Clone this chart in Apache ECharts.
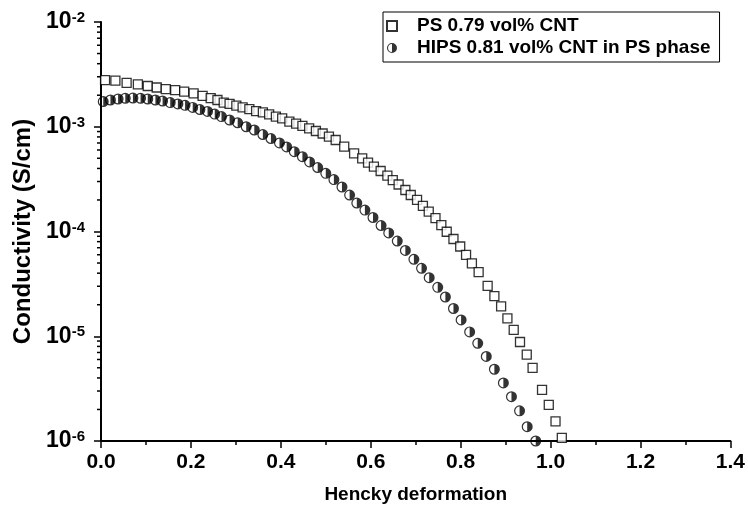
<!DOCTYPE html>
<html>
<head>
<meta charset="utf-8">
<script src="https://cdn.jsdelivr.net/npm/echarts@6/dist/echarts.min.js"></script>
<style>
  html, body { margin: 0; padding: 0; background: #fff; }
  #chart { width: 748px; height: 509px; }
</style>
</head>
<body>
<div id="chart"></div>
<script>
// PS 0.79 vol% CNT (open squares)
var psStrain = [0.009, 0.032, 0.057, 0.082, 0.104, 0.124, 0.144, 0.165, 0.185, 0.206,
  0.226, 0.244, 0.259, 0.273, 0.286, 0.301, 0.315, 0.330, 0.345, 0.360,
  0.374, 0.389, 0.403, 0.419, 0.434, 0.448, 0.463, 0.478, 0.493, 0.507,
  0.522, 0.541, 0.563, 0.581, 0.594, 0.607, 0.622, 0.637, 0.649, 0.662,
  0.677, 0.689, 0.703, 0.716, 0.729, 0.744, 0.757, 0.769, 0.784, 0.799,
  0.812, 0.825, 0.840, 0.860, 0.875, 0.890, 0.904, 0.918, 0.932, 0.947,
  0.960, 0.981, 0.996, 1.011, 1.025];
var psCond = [2.79e-3, 2.76e-3, 2.62e-3, 2.54e-3, 2.45e-3, 2.37e-3, 2.29e-3, 2.24e-3, 2.16e-3, 2.08e-3,
  1.97e-3, 1.88e-3, 1.80e-3, 1.70e-3, 1.65e-3, 1.59e-3, 1.53e-3, 1.47e-3, 1.41e-3, 1.37e-3,
  1.31e-3, 1.25e-3, 1.20e-3, 1.12e-3, 1.07e-3, 1.02e-3, 9.67e-4, 9.11e-4, 8.62e-4, 8.04e-4,
  7.47e-4, 6.45e-4, 5.58e-4, 5.00e-4, 4.54e-4, 4.16e-4, 3.78e-4, 3.41e-4, 3.10e-4, 2.81e-4,
  2.49e-4, 2.23e-4, 2.00e-4, 1.76e-4, 1.55e-4, 1.34e-4, 1.15e-4, 9.95e-5, 8.48e-5, 7.19e-5,
  5.97e-5, 4.97e-5, 4.10e-5, 3.02e-5, 2.42e-5, 1.93e-5, 1.48e-5, 1.15e-5, 8.81e-6, 6.67e-6,
  4.98e-6, 3.07e-6, 2.21e-6, 1.54e-6, 1.07e-6];

// HIPS 0.81 vol% CNT in PS phase (half filled circles)
var hipsStrain = [0.005, 0.021, 0.038, 0.054, 0.071, 0.088, 0.104, 0.121, 0.137, 0.154,
  0.171, 0.187, 0.204, 0.220, 0.237, 0.253, 0.268, 0.286, 0.304, 0.323,
  0.341, 0.360, 0.378, 0.397, 0.413, 0.430, 0.448, 0.464, 0.482, 0.500,
  0.518, 0.536, 0.553, 0.569, 0.587, 0.605, 0.623, 0.640, 0.659, 0.677,
  0.696, 0.713, 0.730, 0.749, 0.766, 0.784, 0.801, 0.820, 0.838, 0.857,
  0.875, 0.895, 0.913, 0.931, 0.948, 0.967];
var hipsCond = [1.74e-3, 1.80e-3, 1.84e-3, 1.87e-3, 1.88e-3, 1.87e-3, 1.84e-3, 1.80e-3, 1.76e-3, 1.70e-3,
  1.65e-3, 1.60e-3, 1.53e-3, 1.46e-3, 1.40e-3, 1.32e-3, 1.25e-3, 1.16e-3, 1.09e-3, 1.00e-3,
  9.31e-4, 8.43e-4, 7.72e-4, 7.00e-4, 6.41e-4, 5.78e-4, 5.18e-4, 4.61e-4, 4.08e-4, 3.59e-4,
  3.13e-4, 2.66e-4, 2.23e-4, 1.87e-4, 1.60e-4, 1.36e-4, 1.14e-4, 9.68e-5, 8.11e-5, 6.59e-5,
  5.43e-5, 4.45e-5, 3.62e-5, 2.93e-5, 2.37e-5, 1.84e-5, 1.43e-5, 1.10e-5, 8.57e-6, 6.41e-6,
  4.84e-6, 3.58e-6, 2.65e-6, 1.94e-6, 1.37e-6, 1.0e-6];

var seriesNames = ["PS 0.79 vol% CNT", "HIPS 0.81 vol% CNT in PS phase"];
var yDecades = [1e-6, 1e-5, 1e-4, 1e-3, 1e-2];
var yMinorSteps = [2, 3, 4, 5, 6, 7, 8, 9];

var font = "'Liberation Sans', Arial, sans-serif";
// circle, right half black, left half white with black rim
var halfCircle = "path://M0,-7.8 L0,-10 A10,10 0 0 1 0,10 A10,10 0 0 1 0,-10 L0,-7.8 A7.8,7.8 0 0 0 0,7.8 Z";

function pairs(xs, ys) {
  return xs.map(function (x, i) { return [x, ys[i]]; });
}

var myChart = echarts.init(document.getElementById("chart"));
var option = {
  animation: false,
  backgroundColor: "#fff",
  grid: { left: 101, right: 15, top: 22, bottom: 68 },
  legend: {
    orient: "vertical",
    left: 383,
    top: 12,
    padding: [4, 9, 4, 3],
    borderColor: "#000",
    borderWidth: 1,
    itemWidth: 10,
    itemHeight: 10,
    itemGap: 2,
    textStyle: {
      fontFamily: font, fontSize: 19, fontWeight: "bold", color: "#000",
      lineHeight: 20, padding: [0, 0, 0, 15]
    },
    data: seriesNames
  },
  xAxis: {
    type: "value",
    min: 0,
    max: 1.4,
    interval: 0.2,
    name: "Hencky deformation",
    nameLocation: "middle",
    nameGap: 44,
    nameTextStyle: { fontFamily: font, fontSize: 19, fontWeight: "bold", color: "#000" },
    axisLine: { lineStyle: { color: "#000", width: 2 } },
    axisTick: { length: 7, lineStyle: { color: "#000", width: 1.5 } },
    minorTick: { show: true, splitNumber: 2, length: 4, lineStyle: { color: "#000", width: 1.5 } },
    splitLine: { show: false },
    axisLabel: {
      margin: 11, fontFamily: font, fontSize: 21, fontWeight: "bold", color: "#000",
      formatter: function (v) { return v.toFixed(1); }
    }
  },
  yAxis: {
    type: "log",
    logBase: 10,
    min: yDecades[0],
    max: yDecades[yDecades.length - 1],
    name: "Conductivity (S/cm)",
    nameLocation: "middle",
    nameGap: 54,
    nameTextStyle: { fontFamily: font, fontSize: 24, fontWeight: "bold", color: "#000" },
    axisLine: { show: true, lineStyle: { color: "#000", width: 2 } },
    axisTick: { show: true, length: 7, lineStyle: { color: "#000", width: 1.5 } },
    splitLine: { show: false },
    axisLabel: {
      margin: 16,
      formatter: function (v) {
        return "{b|10}{e|" + Math.round(Math.log10(v)) + "}";
      },
      rich: {
        b: { fontFamily: font, fontSize: 23, fontWeight: "bold", color: "#000" },
        e: { fontFamily: font, fontSize: 15, fontWeight: "bold", color: "#000", verticalAlign: "top" }
      }
    }
  },
  series: [{
    name: seriesNames[0],
    type: "scatter",
    symbol: "rect",
    symbolSize: 9,
    itemStyle: { color: "#fff", borderColor: "#000", borderWidth: 1.3 },
    data: pairs(psStrain, psCond)
  }, {
    name: seriesNames[1],
    type: "scatter",
    symbol: halfCircle,
    symbolSize: 11,
    itemStyle: { color: "#000" },
    data: pairs(hipsStrain, hipsCond)
  }]
};
option && myChart.setOption(option);

// minor log ticks (2..9 x each decade), placed through the log axis
var minorTicks = [];
var x0 = myChart.convertToPixel({ xAxisIndex: 0 }, 0);
yDecades.slice(0, -1).forEach(function (d) {
  yMinorSteps.forEach(function (k) {
    var py = myChart.convertToPixel({ yAxisIndex: 0 }, d * k);
    minorTicks.push({
      type: "line",
      silent: true,
      z: 10,
      shape: { x1: x0 - 4, y1: py, x2: x0, y2: py },
      style: { stroke: "#000", lineWidth: 1.5 }
    });
  });
});
myChart.setOption({ graphic: minorTicks });
</script>
</body>
</html>
